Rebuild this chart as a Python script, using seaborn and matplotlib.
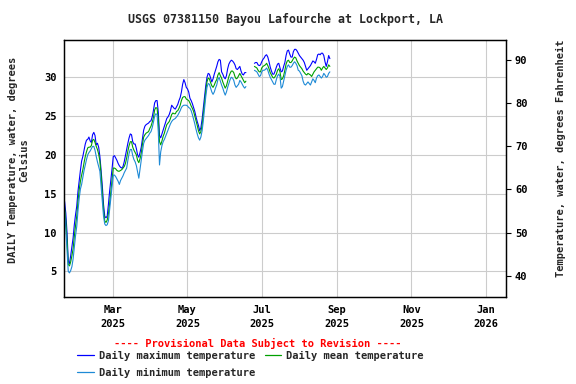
import numpy as np
import pandas as pd
import seaborn as sns
import matplotlib.pyplot as plt
from matplotlib.lines import Line2D

# daily water temperature (deg C), starting 2025-01-20; NaN = missing days
nan = np.nan
t_max = [14.0, 12.5, 10.0, 6.3, 6.0, 7.0, 8.2, 9.3, 11.0, 12.3,
         13.4, 15.3, 16.7, 18.0, 19.2, 19.8, 20.6, 21.4, 21.9, 22.0,
         22.3, 21.8, 21.6, 22.6, 22.9, 22.5, 21.3, 21.5, 21.0, 19.8,
         18.0, 16.0, 13.6, 12.1, 11.9, 12.1, 13.6, 15.3, 16.7, 18.2,
         19.8, 19.9, 19.6, 19.3, 18.9, 18.6, 18.4, 18.3, 18.5, 19.1,
         19.9, 20.7, 21.5, 22.2, 22.7, 22.6, 21.7, 21.4, 21.4, 20.8,
         20.0, 19.7, 20.3, 21.0, 22.1, 23.2, 23.7, 23.9, 24.0, 24.1,
         24.3, 24.4, 24.9, 25.7, 26.7, 27.0, 27.0, 25.5, 22.5, 22.2,
         22.7, 23.2, 23.7, 24.2, 24.7, 24.9, 25.2, 25.7, 26.4, 26.2,
         26.0, 25.9, 26.2, 26.5, 27.0, 27.4, 28.1, 29.1, 29.7, 29.3,
         28.7, 28.5, 28.1, 27.3, 27.0, 26.6, 26.1, 25.6, 24.9, 24.3,
         23.8, 23.1, 23.5, 24.6, 26.0, 27.5, 28.9, 30.0, 30.5, 30.4,
         29.9, 29.4, 29.8, 30.4, 30.9, 31.4, 32.0, 32.3, 32.2, 30.7,
         30.4, 30.0, 29.8, 30.2, 31.1, 31.7, 32.0, 32.2, 32.1, 31.9,
         31.6, 31.1, 31.0, 31.2, 31.4, 30.8, 30.4, 30.3, 30.6, 30.6,
         nan, nan, nan, nan, nan, nan, 31.8, 31.9, 31.9, 31.6,
         31.5, 31.6, 32.0, 32.3, 32.5, 32.8, 32.9, 32.6, 32.0, 31.3,
         30.8, 30.4, 30.4, 30.8, 31.3, 31.7, 31.8, 31.2, 30.7, 30.8,
         31.4, 31.9, 32.8, 33.4, 33.5, 33.0, 32.6, 32.6, 33.3, 33.6,
         33.6, 33.4, 33.1, 32.8, 32.6, 32.4, 32.2, 31.9, 31.4, 30.9,
         31.1, 31.3, 31.5, 31.8, 32.1, 32.0, 31.8, 32.3, 32.9, 33.0,
         32.9, 33.1, 33.1, 32.8, 32.0, 31.4, 32.0, 32.8, 32.4]
t_mean = [13.2, 11.5, 9.0, 5.9, 5.7, 6.2, 7.0, 7.9, 9.5, 10.9,
          12.1, 14.0, 15.5, 16.6, 17.4, 18.1, 19.0, 19.8, 20.4, 20.9,
          21.0, 21.0, 21.2, 21.9, 22.0, 21.6, 21.1, 20.7, 20.1, 19.2,
          17.4, 15.0, 12.9, 11.5, 11.3, 11.6, 12.4, 13.7, 15.2, 16.8,
          18.3, 18.3, 18.2, 18.0, 17.9, 17.9, 18.0, 18.1, 18.3, 18.5,
          18.9, 19.6, 20.5, 21.2, 21.7, 21.7, 21.0, 20.6, 20.3, 20.0,
          19.3, 19.0, 19.5, 20.2, 21.4, 22.3, 22.6, 22.8, 22.9, 23.0,
          23.4, 23.7, 24.2, 24.8, 25.8, 26.1, 26.0, 24.5, 21.7, 21.3,
          21.8, 22.4, 22.8, 23.4, 23.9, 24.1, 24.3, 24.7, 25.2, 25.4,
          25.3, 25.3, 25.6, 25.7, 26.0, 26.4, 27.0, 27.4, 27.5, 27.5,
          27.2, 27.1, 27.0, 26.7, 26.3, 26.0, 25.6, 25.0, 24.4, 23.8,
          23.1, 22.7, 23.0, 23.8, 25.2, 26.7, 28.2, 29.4, 29.9, 29.8,
          29.3, 28.9, 28.7, 29.0, 29.4, 29.7, 30.3, 30.6, 30.2, 29.9,
          29.4, 29.0, 28.6, 28.9, 29.5, 30.1, 30.5, 30.8, 30.8, 30.6,
          30.1, 29.8, 29.9, 30.2, 30.5, 30.2, 29.9, 29.6, 29.3, 29.5,
          nan, nan, nan, nan, nan, nan, 31.4, 31.3, 31.2, 30.9,
          30.7, 30.7, 31.2, 31.4, 31.5, 31.6, 31.8, 31.5, 31.1, 30.6,
          30.3, 30.0, 29.9, 30.1, 30.4, 30.9, 31.1, 30.7, 29.7, 29.8,
          30.2, 30.9, 31.7, 32.1, 32.2, 31.9, 31.9, 32.1, 32.4, 32.6,
          32.5, 32.1, 31.8, 31.5, 31.3, 31.1, 30.8, 30.6, 30.4, 30.3,
          30.5, 30.4, 30.3, 30.1, 30.4, 30.7, 30.9, 31.1, 31.3, 31.3,
          31.2, 30.9, 31.2, 31.4, 31.2, 31.0, 31.2, 31.6, 31.4]
t_min = [12.7, 10.5, 7.8, 5.0, 4.8, 5.1, 5.6, 6.6, 8.1, 9.6,
         10.8, 12.8, 14.4, 15.6, 16.2, 17.1, 18.0, 18.7, 19.4, 20.0,
         20.3, 20.5, 20.8, 21.1, 21.1, 20.6, 19.8, 19.1, 18.5, 17.9,
         16.0, 14.0, 12.1, 11.1, 10.9, 11.0, 11.5, 12.9, 14.4, 15.9,
         17.4, 17.4, 17.2, 16.9, 16.6, 16.2, 16.7, 17.0, 17.3, 17.7,
         18.0, 18.3, 19.3, 20.2, 20.7, 20.7, 19.9, 19.4, 19.1, 18.6,
         17.8, 17.0, 18.2, 19.3, 20.5, 21.5, 21.9, 22.1, 22.3, 22.5,
         22.8, 23.0, 23.5, 24.2, 25.0, 25.3, 25.2, 23.0, 18.7, 20.4,
         21.2, 21.7, 22.0, 22.4, 22.8, 23.2, 23.6, 24.0, 24.3, 24.5,
         24.6, 24.7, 24.9, 25.1, 25.4, 25.7, 26.1, 26.3, 26.4, 26.4,
         26.4, 26.3, 26.1, 26.0, 25.7, 25.2, 24.6, 24.0, 23.3, 22.7,
         22.2, 21.9, 22.3, 23.1, 24.4, 25.9, 27.5, 28.7, 29.2, 29.1,
         28.6, 28.1, 27.8, 28.1, 28.6, 29.0, 29.7, 30.0, 29.5, 29.0,
         28.6, 28.1, 27.7, 28.1, 28.7, 29.2, 29.7, 30.0, 29.9, 29.6,
         29.0, 28.7, 28.9, 29.1, 29.6, 29.4, 29.1, 28.8, 28.6, 28.8,
         nan, nan, nan, nan, nan, nan, 30.9, 30.8, 30.7, 30.4,
         30.1, 30.2, 30.7, 30.9, 30.9, 31.0, 31.2, 30.9, 30.4, 30.0,
         29.7, 29.4, 29.1, 29.1, 29.7, 30.2, 30.4, 30.1, 28.6, 28.8,
         29.5, 30.2, 30.9, 31.4, 31.6, 31.3, 31.3, 31.5, 31.8, 32.0,
         31.8, 31.5, 30.9, 30.8, 30.5, 30.2, 29.5, 29.1, 29.0, 29.2,
         29.4, 29.2, 29.0, 29.4, 29.8, 29.6, 29.3, 29.9, 30.2, 30.3,
         30.1, 29.9, 30.1, 30.5, 30.3, 30.0, 30.1, 30.5, 30.7]

series_names = ['Daily maximum temperature', 'Daily mean temperature',
                'Daily minimum temperature']
series_colors = ['#0000ff', '#00a000', '#1e8ad6']
month_ticks = ['2025-03-01', '2025-05-01', '2025-07-01', '2025-09-01',
               '2025-11-01', '2026-01-01']
c_ticks = [5, 10, 15, 20, 25, 30]
f_ticks = [40, 50, 60, 70, 80, 90]

dates = pd.date_range('2025-01-20', periods=len(t_max), freq='D')
frames = []
for name, vals in zip(series_names, [t_max, t_mean, t_min]):
    d = pd.DataFrame({'date': dates, 'temp': vals, 'series': name})
    # split on gaps so lines break where data is missing
    d['seg'] = d['temp'].isna().cumsum()
    frames.append(d.dropna())
df = pd.concat(frames, ignore_index=True)

sns.set_theme(style='white')
plt.rcParams['font.family'] = ['DejaVu Sans Mono']
plt.rcParams['font.weight'] = 'bold'

fig = plt.figure(figsize=(5.76, 3.84), dpi=100)
ax = fig.add_axes([0.1116, 0.2273, 0.878 - 0.1116, 0.8958 - 0.2273])

sns.lineplot(data=df, x='date', y='temp', hue='series', units='seg',
             estimator=None, palette=dict(zip(series_names, series_colors)),
             hue_order=series_names, linewidth=0.8, legend=False, ax=ax)

lo, hi = 1.73, 34.8
ax.set_ylim(lo, hi)
ax.set_xlim(pd.Timestamp('2025-01-19 18:00'), pd.Timestamp('2026-01-17 12:00'))
ax.set_yticks(c_ticks)
xt = pd.to_datetime(month_ticks)
ax.set_xticks(xt)
ax.set_xticklabels([d.strftime('%b\n%Y') for d in xt])
for lab in ax.get_xticklabels():
    lab.set_linespacing(1.5)
ax.tick_params(axis='both', length=0, labelsize=7.5, colors='black')
ax.tick_params(axis='y', pad=5.5)
ax.tick_params(axis='x', pad=6)
ax.grid(True, color='#cccccc', linewidth=0.8)
ax.set_xlabel('')
ax.set_ylabel('')
for s in ax.spines.values():
    s.set_color('black')
    s.set_linewidth(0.9)

ax2 = ax.twinx()
ax2.set_ylim(lo * 9 / 5 + 32, hi * 9 / 5 + 32)
ax2.set_yticks(f_ticks)
ax2.tick_params(axis='y', length=3.6, width=0.8, pad=3, labelsize=7.5,
                colors='black', direction='out')
ax2.grid(False)
for s in ax2.spines.values():
    s.set_color('black')
    s.set_linewidth(0.9)

fig.text(0.495, 0.95, 'USGS 07381150 Bayou Lafourche at Lockport, LA',
         ha='center', va='center', fontsize=8.4, fontweight='bold')
fig.text(18.5 / 576, 0.583, 'DAILY Temperature, water, degrees\nCelsius',
         rotation=90, ha='center', va='center', fontsize=7.5,
         fontweight='bold', multialignment='center', linespacing=1.2)
fig.text(561 / 576, 0.588, 'Temperature, water, degrees Fahrenheit',
         rotation=90, ha='center', va='center', fontsize=7.5,
         fontweight='bold')
fig.text(258 / 576, 1 - 343 / 384,
         '---- Provisional Data Subject to Revision ----',
         ha='center', va='center', fontsize=7.5, fontweight='bold',
         color='red')

handles = [Line2D([], [], color=c, linewidth=0.9) for c in series_colors]
order = [0, 2, 1]
fig.legend([handles[i] for i in order], [series_names[i] for i in order],
           loc='upper left', bbox_to_anchor=(77 / 576, 1 - 351 / 384),
           ncol=2, frameon=False, fontsize=7.5, handlelength=1.6,
           handletextpad=0.5, columnspacing=0.9, labelspacing=0.65,
           borderpad=0, borderaxespad=0)

fig.savefig('out.png', dpi=100)
